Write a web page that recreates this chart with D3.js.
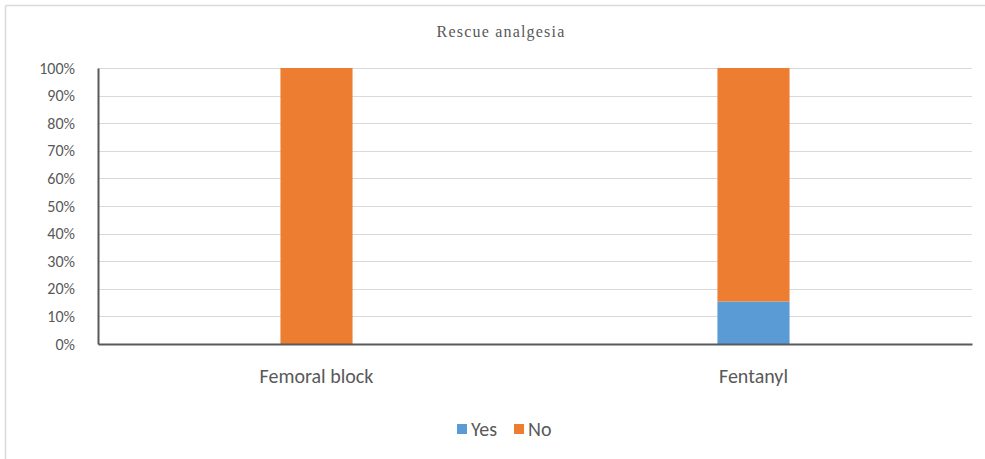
<!DOCTYPE html>
<html>
<head>
<meta charset="utf-8">
<script src="https://cdn.jsdelivr.net/npm/d3@7"></script>
<style>
  html, body { margin: 0; padding: 0; background: #fff; }
  svg { display: block; }
</style>
</head>
<body>
<svg id="chart" width="985" height="459"></svg>
<script>
// Share of patients needing rescue analgesia, per group (percent)
const categories = ["Femoral block", "Fentanyl"];
const seriesNames = ["Yes", "No"];
const yesValues = [0, 15.4];
const noValues = [100, 84.6];
const tickValues = [0, 10, 20, 30, 40, 50, 60, 70, 80, 90, 100];
const colors = ["#5B9BD5", "#ED7D31"];

const svg = d3.select("#chart");
const W = 985, H = 459;
const plot = { left: 98, right: 972, top: 68, bottom: 344 };
const sans = "Carlito, 'Liberation Sans', 'Open Sans', sans-serif";

// Outer frame (top and left edges visible)
svg.append("line").attr("x1", 5.5).attr("x2", W).attr("y1", 5.5).attr("y2", 5.5)
  .attr("stroke", "#d9d9d9").attr("stroke-width", 1.5);
svg.append("line").attr("x1", 5.5).attr("x2", 5.5).attr("y1", 5.5).attr("y2", H)
  .attr("stroke", "#d9d9d9").attr("stroke-width", 1.5);

// Title
svg.append("text")
  .attr("x", 501).attr("y", 37)
  .attr("text-anchor", "middle")
  .attr("font-family", "'Liberation Serif', 'DejaVu Serif', serif")
  .attr("font-size", 16)
  .attr("letter-spacing", "1.2px")
  .attr("fill", "#595959")
  .text("Rescue analgesia");

const x = d3.scaleBand().domain(categories).range([plot.left, plot.right]).paddingInner(0.835).paddingOuter(0.4175);
const y = d3.scaleLinear().domain([0, 100]).range([plot.bottom, plot.top]);

// Gridlines
svg.append("g").selectAll("line").data(tickValues.filter(t => t > 0)).join("line")
  .attr("x1", plot.left).attr("x2", plot.right)
  .attr("y1", d => Math.round(y(d)) + 0.5).attr("y2", d => Math.round(y(d)) + 0.5)
  .attr("stroke", "#d9d9d9").attr("stroke-width", 1);

// Stacked bars
const rows = categories.map((c, i) => ({ category: c, Yes: yesValues[i], No: noValues[i] }));
const stack = d3.stack().keys(seriesNames)(rows);
svg.append("g").selectAll("g").data(stack).join("g")
  .attr("fill", (d, i) => colors[i])
  .selectAll("rect").data(d => d).join("rect")
  .attr("x", d => x(d.data.category))
  .attr("width", x.bandwidth())
  .attr("y", d => y(d[1]))
  .attr("height", d => y(d[0]) - y(d[1]));

// Y axis
const yAxis = svg.append("g").attr("transform", `translate(${plot.left},0)`)
  .call(d3.axisLeft(y).tickValues(tickValues).tickFormat(d => d + "%").tickSize(0).tickPadding(23));
yAxis.select(".domain").attr("stroke", "#595959").attr("stroke-width", 2);
yAxis.selectAll("text")
  .attr("font-family", sans)
  .attr("font-size", 16).attr("fill", "#595959");

// X axis
const xAxis = svg.append("g").attr("transform", `translate(0,${plot.bottom})`)
  .call(d3.axisBottom(x).tickSize(0).tickPadding(25));
xAxis.select(".domain").attr("stroke", "#595959").attr("stroke-width", 2);
xAxis.selectAll("text")
  .attr("font-family", sans)
  .attr("font-size", 20).attr("fill", "#595959");

// Legend
const legendItems = [{ name: "Yes", x: 457 }, { name: "No", x: 514 }];
const legend = svg.append("g");
legendItems.forEach((item, i) => {
  legend.append("rect").attr("x", item.x).attr("y", 424).attr("width", 10).attr("height", 10)
    .attr("fill", colors[i]);
  legend.append("text").attr("x", item.x + 14).attr("y", 436)
    .attr("font-family", sans)
    .attr("font-size", 20).attr("fill", "#595959")
    .text(item.name);
});
</script>
</body>
</html>
